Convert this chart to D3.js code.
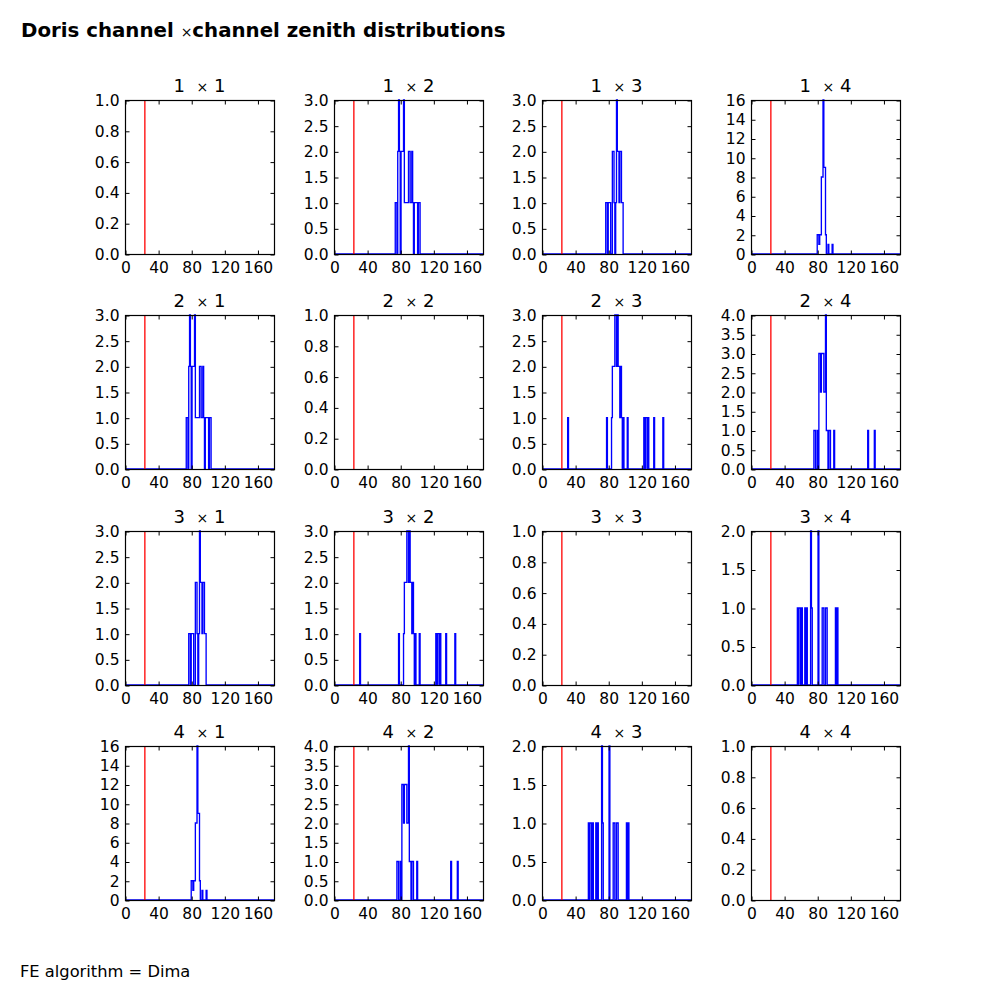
<!DOCTYPE html>
<html><head><meta charset="utf-8">
<script src="https://cdn.jsdelivr.net/npm/d3@7"></script>
<style>body{margin:0;background:#fff} svg{display:block} text{white-space:pre}</style>
</head><body>
<svg id="chart" width="1000" height="1000"></svg>
<script>
// ---- data ----
const channels = [1, 2, 3, 4];
const xTicks = [0, 40, 80, 120, 160];
const xDomain = [0, 180];
const binWidth = 1;          // degrees per histogram bin
const cutAngle = 24;         // red reference line (deg)
const figTitleA = "Doris channel ";
const figTitleTimes = "\u00d7";
const figTitleB = "channel zenith distributions";
const footerText = "FE algorithm = Dima";

// histogram bins: [bin start (deg), count]; channel pairs are symmetric
const pair12 = [[74,1],[75,1],[77,2],[78,3],[79,2],[81,2],[82,2],[83,2],[84,3],[85,1],[86,1],[87,1],[88,1],[89,1],[90,2],[91,2],[92,1],[93,1],[94,2],[95,1],[97,1],[98,1],[99,1],[100,1],[102,1],[103,1]];
const pair13 = [[77,1],[78,1],[80,1],[81,1],[82,1],[85,2],[86,2],[87,1],[89,1],[90,3],[91,2],[92,2],[93,1],[94,2],[95,2],[96,1],[97,1]];
const pair14 = [[80,2],[81,2],[82,1],[83,2],[84,2],[85,8],[86,8],[87,16],[88,9],[89,9],[90,2],[93,1],[98,1]];
const pair23 = [[31,1],[78,1],[84,1],[85,2],[86,2],[87,2],[88,3],[89,3],[90,2],[91,3],[92,2],[93,2],[94,1],[95,2],[96,1],[98,1],[103,1],[123,1],[125,1],[126,1],[128,1],[135,1],[146,1]];
const pair24 = [[76,1],[77,1],[80,1],[82,3],[83,3],[84,2],[85,3],[86,3],[87,3],[88,2],[89,2],[90,4],[91,1],[92,1],[94,1],[95,1],[100,1],[141,1],[149,1]];
const pair34 = [[56,1],[58,1],[59,1],[61,1],[65,1],[67,1],[72,2],[73,1],[81,2],[86,1],[87,1],[90,1],[91,1],[102,1],[104,1]];
const emptyBins = [];

// y ranges (top of axis) and tick labels per panel
const yTicks1 = [0, 0.2, 0.4, 0.6, 0.8, 1.0];
const yTicks2 = [0, 0.5, 1.0, 1.5, 2.0];
const yTicks3 = [0, 0.5, 1.0, 1.5, 2.0, 2.5, 3.0];
const yTicks4 = [0, 0.5, 1.0, 1.5, 2.0, 2.5, 3.0, 3.5, 4.0];
const yTicks16 = [0, 2, 4, 6, 8, 10, 12, 14, 16];

const panelBins = [
  [emptyBins, pair12, pair13, pair14],
  [pair12, emptyBins, pair23, pair24],
  [pair13, pair23, emptyBins, pair34],
  [pair14, pair24, pair34, emptyBins]
];
const panelYMax = [
  [1, 3, 3, 16],
  [3, 1, 3, 4],
  [3, 3, 1, 2],
  [16, 4, 2, 1]
];
const yTicksFor = {1: yTicks1, 2: yTicks2, 3: yTicks3, 4: yTicks4, 16: yTicks16};

// ---- layout ----
const left0 = 125, colStep = 208.67, axW = 149;
const top0 = 100, rowStep = 215.33, axH = 154;
const FONT = "DejaVu Sans, Liberation Sans, sans-serif";
const tickFont = 15.5;

const svg = d3.select("#chart");
svg.append("rect").attr("width", 1000).attr("height", 1000).attr("fill", "#fff");

// figure title
const ft = svg.append("text").attr("x", 21).attr("y", 37)
  .attr("font-family", FONT).attr("font-size", 19.8).attr("fill", "#000");
ft.append("tspan").attr("font-weight", "bold").text(figTitleA);
ft.append("tspan").attr("font-size", 14).attr("font-weight", "normal").text(figTitleTimes);
ft.append("tspan").attr("font-weight", "bold").text(figTitleB);

// footer
svg.append("text").attr("x", 20).attr("y", 977)
  .attr("font-family", FONT).attr("font-size", 16.3).attr("fill", "#000").text(footerText);

channels.forEach((ci, r) => {
  channels.forEach((cj, c) => {
    const L = Math.round(left0 + c * colStep);
    const T = Math.round(top0 + r * rowStep);
    const ymax = panelYMax[r][c];
    const bins = panelBins[r][c];
    const x = d3.scaleLinear().domain(xDomain).range([0, axW]);
    const y = d3.scaleLinear().domain([0, ymax]).range([axH, 0]);
    const g = svg.append("g").attr("transform", `translate(${L},${T})`);

    // histogram step outline
    if (bins.length) {
      const nb = Math.round((xDomain[1] - xDomain[0]) / binWidth);
      const counts = new Array(nb).fill(0);
      bins.forEach(([b, n]) => { counts[Math.round((b - xDomain[0]) / binWidth)] = n; });
      const pts = [[xDomain[0], 0]];
      counts.forEach((n, i) => {
        const x0 = xDomain[0] + i * binWidth;
        pts.push([x0, n], [x0 + binWidth, n]);
      });
      pts.push([xDomain[1], 0]);
      const line = d3.line().x(d => x(d[0])).y(d => y(d[1]));
      g.append("path").attr("d", line(pts)).attr("fill", "none")
        .attr("stroke", "#0000ff").attr("stroke-width", 1.35);
    }

    // red reference line
    g.append("line").attr("x1", x(cutAngle)).attr("x2", x(cutAngle))
      .attr("y1", y(0)).attr("y2", y(ymax)).attr("stroke", "#ff0000").attr("stroke-width", 1.3);

    // frame
    g.append("rect").attr("x", 0.5).attr("y", 0.5).attr("width", axW).attr("height", axH)
      .attr("fill", "none").attr("stroke", "#000").attr("stroke-width", 1.2);

    const yt = yTicksFor[ymax];
    const yfmt = ymax >= 10 ? d3.format("d") : d3.format(".1f");

    const axB = g.append("g").attr("transform", `translate(0.5,${axH + 0.5})`)
      .call(d3.axisBottom(x).tickValues(xTicks).tickSizeInner(-4).tickSizeOuter(0).tickPadding(7).tickFormat(d3.format("d")));
    const axT = g.append("g").attr("transform", `translate(0.5,0.5)`)
      .call(d3.axisTop(x).tickValues(xTicks).tickSizeInner(-4).tickSizeOuter(0).tickFormat(""));
    const axL = g.append("g").attr("transform", `translate(0.5,0.5)`)
      .call(d3.axisLeft(y).tickValues(yt).tickSizeInner(-4).tickSizeOuter(0).tickPadding(6).tickFormat(yfmt));
    const axR = g.append("g").attr("transform", `translate(${axW + 0.5},0.5)`)
      .call(d3.axisRight(y).tickValues(yt).tickSizeInner(-4).tickSizeOuter(0).tickFormat(""));
    [axB, axT, axL, axR].forEach(a => {
      a.select(".domain").remove();
      a.attr("font-family", FONT).attr("font-size", tickFont);
      a.selectAll("line").attr("stroke", "#000");
      a.selectAll("text").attr("fill", "#000");
    });

    // panel title "i × j"
    const tt = g.append("text").attr("x", axW / 2).attr("y", -8)
      .attr("text-anchor", "middle").attr("font-family", FONT).attr("font-size", 18).attr("fill", "#000");
    tt.append("tspan").text(ci + "  ");
    tt.append("tspan").attr("font-size", 14).text("\u00d7");
    tt.append("tspan").text(" " + cj);
  });
});
</script>
</body></html>
